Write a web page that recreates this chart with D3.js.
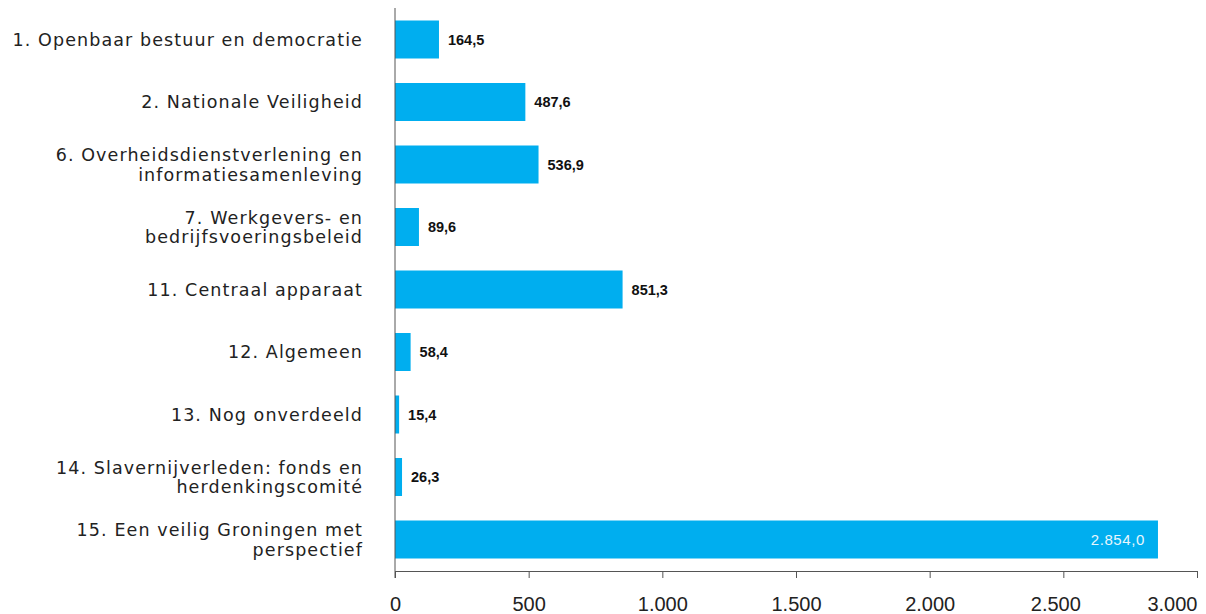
<!DOCTYPE html>
<html>
<head>
<meta charset="utf-8">
<script src="https://cdn.jsdelivr.net/npm/d3@7"></script>
<style>
  body { margin: 0; background: #fff; }
  text { font-family: 'Liberation Sans', Arial, sans-serif; }
</style>
</head>
<body>
<div id="chart"></div>
<script>
// categories (each label split into its lines) and values in mln euro
const categories = [
  ['1. Openbaar bestuur en democratie'],
  ['2. Nationale Veiligheid'],
  ['6. Overheidsdienstverlening en', 'informatiesamenleving'],
  ['7. Werkgevers- en', 'bedrijfsvoeringsbeleid'],
  ['11. Centraal apparaat'],
  ['12. Algemeen'],
  ['13. Nog onverdeeld'],
  ['14. Slavernijverleden: fonds en', 'herdenkingscomité'],
  ['15. Een veilig Groningen met', 'perspectief']
]
const values = [164.5, 487.6, 536.9, 89.6, 851.3, 58.4, 15.4, 26.3, 2854.0]
const ticks = [0, 500, 1000, 1500, 2000, 2500, 3000]

const width = 1206
const height = 614
const margin = { top: 8, left: 395, right: 9, bottom: 43 }

const nl = d3.formatLocale({ decimal: ',', thousands: '.', grouping: [3], currency: ['€', ''] })
const fmtTick = nl.format(',.0f')
const fmtVal = nl.format(',.1f')

const svg = d3.select('#chart')
  .append('svg')
  .attr('width', width)
  .attr('height', height)

const x = d3.scaleLinear()
  .domain([0, 3000])
  .range([margin.left, width - margin.right])

const y = d3.scaleBand()
  .domain(d3.range(categories.length))
  .range([margin.top, height - margin.bottom])
  .paddingInner(0.392)
  .paddingOuter(0.2)

// bars
svg.selectAll('.bar')
  .data(values)
  .enter()
  .append('rect')
  .attr('class', 'bar')
  .attr('x', x(0))
  .attr('y', (d, i) => y(i))
  .attr('width', d => x(d) - x(0))
  .attr('height', y.bandwidth())
  .attr('fill', '#00aeef')

// value labels, the long one goes inside the bar
svg.selectAll('.val')
  .data(values)
  .enter()
  .append('text')
  .attr('class', 'val')
  .attr('x', d => d > 2000 ? x(d) - 13 : x(d) + 9)
  .attr('y', (d, i) => y(i) + y.bandwidth() / 2)
  .attr('dy', '0.36em')
  .attr('text-anchor', d => d > 2000 ? 'end' : 'start')
  .attr('font-size', d => d > 2000 ? 15 : 14.5)
  .attr('letter-spacing', d => d > 2000 ? 0.6 : 0)
  .attr('font-weight', d => d > 2000 ? 'normal' : 'bold')
  .attr('fill', d => d > 2000 ? '#e8f6fd' : '#111')
  .text(d => fmtVal(d))

// category labels (style, so the css rule above doesn't win)
const lineH = 19.5
const cat = svg.selectAll('.cat')
  .data(categories)
  .enter()
  .append('text')
  .attr('class', 'cat')
  .attr('text-anchor', 'end')
  .style('font-family', "'DejaVu Sans', sans-serif")
  .attr('font-size', 17.5)
  .attr('letter-spacing', 1.1)
  .attr('fill', '#222')

cat.selectAll('tspan')
  .data((d, i) => d.map((line, j) => ({ line, j, n: d.length, i })))
  .enter()
  .append('tspan')
  .attr('x', 363)
  .attr('y', d => y(d.i) + y.bandwidth() / 2 + (d.j - (d.n - 1) / 2) * lineH)
  .attr('dy', '0.36em')
  .text(d => d.line)

// x axis
const xAxis = d3.axisBottom(x)
  .tickValues(ticks)
  .tickFormat(fmtTick)
  .tickSize(7)
  .tickSizeOuter(0)

const gx = svg.append('g')
  .attr('transform', 'translate(0,' + (height - margin.bottom) + ')')
  .call(xAxis)

gx.select('.domain').attr('stroke', '#555')
gx.selectAll('.tick line').attr('stroke', '#555')
gx.selectAll('.tick text')
  .attr('font-size', 20)
  .attr('fill', '#222')
  .attr('dy', 0)
  .attr('y', 40)
  .attr('text-anchor', d => d === 3000 ? 'end' : 'middle')
  .attr('dx', d => d === 2500 ? -8 : 0)

// vertical baseline
svg.append('line')
  .attr('x1', x(0))
  .attr('x2', x(0))
  .attr('y1', margin.top)
  .attr('y2', height - margin.bottom + 7)
  .attr('stroke', '#555')
</script>
</body>
</html>
